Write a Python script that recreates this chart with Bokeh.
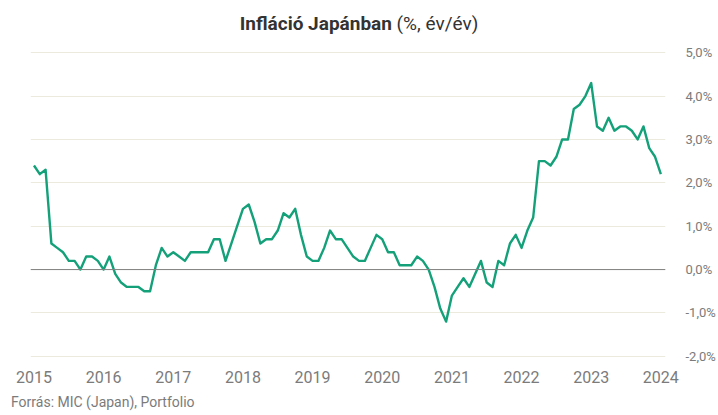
from bokeh.plotting import figure
from bokeh.models import Range1d, FixedTicker, Span, Div
from bokeh.layouts import column
from bokeh.embed import file_html
from bokeh.resources import INLINE

# ---- data -------------------------------------------------------------
years = ["2015", "2016", "2017", "2018", "2019", "2020", "2021", "2022", "2023", "2024"]
year_ticks = [0, 12, 24, 36, 48, 60, 72, 84, 96, 108]   # month index of each January

cpi_2015 = [2.4, 2.2, 2.3, 0.6, 0.5, 0.4, 0.2, 0.2, 0.0, 0.3, 0.3, 0.2]
cpi_2016 = [0.0, 0.3, -0.1, -0.3, -0.4, -0.4, -0.4, -0.5, -0.5, 0.1, 0.5, 0.3]
cpi_2017 = [0.4, 0.3, 0.2, 0.4, 0.4, 0.4, 0.4, 0.7, 0.7, 0.2, 0.6, 1.0]
cpi_2018 = [1.4, 1.5, 1.1, 0.6, 0.7, 0.7, 0.9, 1.3, 1.2, 1.4, 0.8, 0.3]
cpi_2019 = [0.2, 0.2, 0.5, 0.9, 0.7, 0.7, 0.5, 0.3, 0.2, 0.2, 0.5, 0.8]
cpi_2020 = [0.7, 0.4, 0.4, 0.1, 0.1, 0.1, 0.3, 0.2, 0.0, -0.4, -0.9, -1.2]
cpi_2021 = [-0.6, -0.4, -0.2, -0.4, -0.1, 0.2, -0.3, -0.4, 0.2, 0.1, 0.6, 0.8]
cpi_2022 = [0.5, 0.9, 1.2, 2.5, 2.5, 2.4, 2.6, 3.0, 3.0, 3.7, 3.8, 4.0]
cpi_2023 = [4.3, 3.3, 3.2, 3.5, 3.2, 3.3, 3.3, 3.2, 3.0, 3.3, 2.8, 2.6]
cpi_2024 = [2.2]

inflation = (cpi_2015 + cpi_2016 + cpi_2017 + cpi_2018 + cpi_2019 +
             cpi_2020 + cpi_2021 + cpi_2022 + cpi_2023 + cpi_2024)
months = list(range(len(inflation)))

y_ticks = [-2, -1, 0, 1, 2, 3, 4, 5]
y_labels = ["-2,0%", "-1,0%", "0,0%", "1,0%", "2,0%", "3,0%", "4,0%", "5,0%"]

title_bold = "Infláció Japánban"
title_rest = "(%, év/év)"
source_text = "Forrás: MIC (Japan), Portfolio"

# ---- styles -----------------------------------------------------------
LINE_COLOR = "#14a17a"
GRID_COLOR = "#ece9dd"
LABEL_COLOR = "#7b7b7b"
TITLE_COLOR = "#333333"

title_div = Div(
    text=('<div style="width:718px;text-align:center;font-family:Roboto;font-size:19px;'
          f'color:{TITLE_COLOR};padding-top:12px;white-space:nowrap;line-height:normal">'
          f'<b>{title_bold}</b> {title_rest}</div>'),
    width=718, height=42, margin=0)

p = figure(width=718, height=346, output_backend="svg", toolbar_location=None,
           x_range=Range1d(-0.6, 108.8), y_range=Range1d(-2.05, 5.05),
           y_axis_location="right",
           min_border_left=30, min_border_right=50,
           min_border_top=8, min_border_bottom=30, margin=0)
p.outline_line_color = None
p.background_fill_color = "white"
p.border_fill_color = "white"

# x axis (years)
p.xaxis.ticker = FixedTicker(ticks=year_ticks)
p.xaxis.major_label_overrides = {t: y for t, y in zip(year_ticks, years)}
p.xaxis.axis_line_color = None
p.xaxis.major_tick_line_color = None
p.xaxis.minor_tick_line_color = None
p.xaxis.major_label_standoff = 6
p.xaxis.major_label_text_font = "Roboto"
p.xaxis.major_label_text_font_size = "16px"
p.xaxis.major_label_text_color = LABEL_COLOR

# y axis (right)
p.yaxis.ticker = FixedTicker(ticks=y_ticks)
p.yaxis.major_label_overrides = {t: l for t, l in zip(y_ticks, y_labels)}
p.yaxis.axis_line_color = None
p.yaxis.major_tick_line_color = None
p.yaxis.minor_tick_line_color = None
p.yaxis.major_label_standoff = 14
p.yaxis.major_label_text_font = "Roboto"
p.yaxis.major_label_text_font_size = "13px"
p.yaxis.major_label_text_color = LABEL_COLOR

p.xgrid.grid_line_color = None
p.ygrid.ticker = FixedTicker(ticks=y_ticks)
p.ygrid.grid_line_color = GRID_COLOR
p.ygrid.grid_line_width = 1

p.add_layout(Span(location=0, dimension="width", line_color="#808080", line_width=1))

p.line(months, inflation, line_color=LINE_COLOR, line_width=2.4, line_join="round")

source_div = Div(
    text=('<div style="font-family:Roboto;font-size:14px;'
          f'color:{LABEL_COLOR};padding-top:6px;padding-left:11px;white-space:nowrap;line-height:normal">'
          f'{source_text}</div>'),
    width=718, height=27, margin=0)

layout = column(title_div, p, source_div, spacing=0)

open("out.html", "w").write(file_html(layout, INLINE))
